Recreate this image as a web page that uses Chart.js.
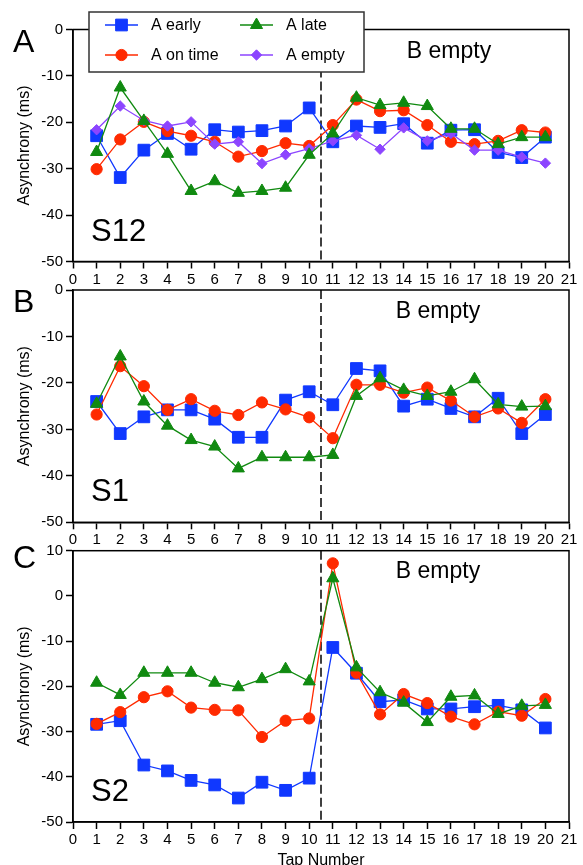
<!DOCTYPE html>
<html lang="en">
<head>
<meta charset="UTF-8" />
<title>Asynchrony by tap number</title>
<script src="https://cdn.jsdelivr.net/npm/chart.js"></script>
<style>
  html, body { margin: 0; padding: 0; background: #fff; overflow: hidden; }
  .page { position: relative; width: 583px; height: 865px; overflow: hidden; }
  .page canvas { position: absolute; left: 0; }
</style>
</head>
<body>
<div class="page">
  <canvas id="chartA" width="583" height="300" style="top:0px"></canvas>
  <canvas id="chartB" width="583" height="290" style="top:270px"></canvas>
  <canvas id="chartC" width="583" height="350" style="top:530px"></canvas>
</div>
<script>
// tap numbers and tick values
const taps = [1, 2, 3, 4, 5, 6, 7, 8, 9, 10, 11, 12, 13, 14, 15, 16, 17, 18, 19, 20];
const xTicks = [0, 1, 2, 3, 4, 5, 6, 7, 8, 9, 10, 11, 12, 13, 14, 15, 16, 17, 18, 19, 20, 21];
const yTicksAB = [0, -10, -20, -30, -40, -50];
const yTicksC = [10, 0, -10, -20, -30, -40, -50];
const splitTap = 10.5;

// panel A, S12
const s12Early = [-22.9, -31.9, -26.0, -22.4, -25.8, -21.6, -22.1, -21.8, -20.8, -16.9, -24.2, -20.8, -21.1, -20.3, -24.5, -21.7, -21.6, -26.5, -27.6, -23.2];
const s12OnTime = [-30.1, -23.7, -19.9, -21.9, -22.9, -24.2, -27.4, -26.2, -24.5, -25.1, -20.6, -15.1, -17.6, -17.4, -20.6, -24.2, -24.7, -24.0, -21.7, -22.2];
const s12Late = [-26.4, -12.5, -19.7, -26.8, -34.8, -32.7, -35.2, -34.8, -34.1, -27.0, -22.4, -14.7, -16.3, -15.8, -16.5, -21.4, -21.4, -24.7, -23.2, -23.2];
const s12Empty = [-21.6, -16.5, -19.6, -20.8, -19.9, -24.7, -24.2, -28.9, -27.0, -25.7, -24.0, -22.8, -25.8, -21.2, -24.0, -22.4, -26.0, -26.0, -27.5, -28.8];

// panel B, S1
const s1Early = [-24.0, -30.9, -27.3, -25.8, -25.8, -27.8, -31.7, -31.7, -23.7, -21.9, -24.7, -16.9, -17.4, -25.0, -23.5, -25.5, -27.3, -23.3, -30.9, -26.8];
const s1OnTime = [-26.8, -16.4, -20.7, -25.8, -23.5, -26.0, -26.9, -24.2, -25.7, -27.4, -31.9, -20.4, -20.4, -22.1, -21.0, -23.8, -27.3, -25.5, -28.6, -23.5];
const s1Late = [-24.5, -14.3, -24.0, -29.2, -32.3, -33.7, -38.4, -36.0, -36.0, -36.0, -35.5, -22.8, -19.0, -21.5, -22.8, -21.9, -19.2, -24.6, -25.1, -25.0];

// panel C, S2
const s2Early = [-28.4, -27.6, -37.4, -38.7, -40.8, -41.8, -44.7, -41.2, -43.0, -40.3, -11.4, -17.1, -23.4, -23.0, -25.0, -25.0, -24.5, -24.2, -25.2, -29.2];
const s2OnTime = [-28.3, -25.7, -22.4, -21.1, -24.7, -25.2, -25.3, -31.2, -27.6, -27.1, 7.2, -17.0, -26.2, -21.7, -23.7, -26.7, -28.4, -25.6, -26.5, -22.8];
const s2Late = [-19.2, -21.9, -17.0, -17.0, -17.0, -19.2, -20.2, -18.4, -16.2, -18.9, 3.9, -15.8, -21.3, -23.6, -27.9, -22.3, -22.0, -26.1, -24.3, -24.1];

const BLUE = "#1038ff";
const RED = "#ff2a00";
const GREEN = "#108a10";
const PURPLE = "#8c45ff";
const FONT = "'Liberation Sans', Arial, Helvetica, sans-serif";

const styles = {
  early: { label: "A early", color: BLUE, shape: "rect", r: 8.3 },
  onTime: { label: "A on time", color: RED, shape: "circle", r: 5.6 },
  late: { label: "A late", color: GREEN, shape: "triangle", r: 7 },
  empty: { label: "A empty", color: PURPLE, shape: "rectRot", r: 5.2 },
};

function series(kind, values) {
  const s = styles[kind];
  return {
    label: s.label,
    data: taps.map((t, i) => ({ x: t, y: values[i] })),
    borderColor: s.color,
    backgroundColor: s.color,
    borderWidth: 1.3,
    pointStyle: s.shape,
    pointRadius: s.r,
    pointHoverRadius: s.r,
    pointBorderWidth: 1,
    tension: 0,
    clip: false,
  };
}

function drawMarker(ctx, shape, x, y, r, color) {
  ctx.fillStyle = color;
  ctx.strokeStyle = color;
  ctx.lineWidth = 1;
  ctx.beginPath();
  if (shape === "rect") {
    const h = Math.SQRT1_2 * r;
    ctx.rect(x - h, y - h, 2 * h, 2 * h);
  } else if (shape === "circle") {
    ctx.arc(x, y, r, 0, Math.PI * 2);
  } else if (shape === "triangle") {
    ctx.moveTo(x, y - r);
    ctx.lineTo(x + r * Math.sin(Math.PI * 2 / 3), y - r * Math.cos(Math.PI * 2 / 3));
    ctx.lineTo(x + r * Math.sin(Math.PI * 4 / 3), y - r * Math.cos(Math.PI * 4 / 3));
    ctx.closePath();
  } else {
    ctx.moveTo(x - r, y);
    ctx.lineTo(x, y - r);
    ctx.lineTo(x + r, y);
    ctx.lineTo(x, y + r);
    ctx.closePath();
  }
  ctx.fill();
  ctx.stroke();
}

function drawLegend(ctx) {
  ctx.fillStyle = "#fff";
  ctx.fillRect(89, 12, 275, 60);
  ctx.strokeStyle = "#333";
  ctx.lineWidth = 1.5;
  ctx.strokeRect(89, 12, 275, 60);
  const items = [
    { kind: "early", x: 105, y: 25 },
    { kind: "onTime", x: 105, y: 55 },
    { kind: "late", x: 240, y: 25 },
    { kind: "empty", x: 240, y: 55 },
  ];
  items.forEach((it) => {
    const s = styles[it.kind];
    ctx.strokeStyle = s.color;
    ctx.lineWidth = 1.3;
    ctx.beginPath();
    ctx.moveTo(it.x, it.y);
    ctx.lineTo(it.x + 33, it.y);
    ctx.stroke();
    drawMarker(ctx, s.shape, it.x + 16.5, it.y, s.r, s.color);
    ctx.fillStyle = "#000";
    ctx.font = "16px " + FONT;
    ctx.textAlign = "left";
    ctx.textBaseline = "middle";
    ctx.fillText(s.label, it.x + 46, it.y + 1);
  });
}

// frame, dashed split line, panel labels, legend
const panelDecor = {
  id: "panelDecor",
  beforeDatasetsDraw(chart, args, opts) {
    const { ctx, chartArea: a } = chart;
    const x = chart.scales.x;
    ctx.save();
    ctx.strokeStyle = "#000";
    ctx.lineWidth = 1.5;
    ctx.strokeRect(a.left, a.top, a.right - a.left, a.bottom - a.top);
    const px = x.getPixelForValue(splitTap);
    ctx.setLineDash([9, 4]);
    ctx.lineWidth = 1.5;
    ctx.beginPath();
    ctx.moveTo(px, a.top);
    ctx.lineTo(px, a.bottom);
    ctx.stroke();
    ctx.restore();
  },
  afterDraw(chart, args, opts) {
    const { ctx, chartArea: a } = chart;
    ctx.save();
    ctx.fillStyle = "#000";
    ctx.textBaseline = "alphabetic";
    ctx.textAlign = "left";
    ctx.font = "32px " + FONT;
    ctx.fillText(opts.letter, 13, a.top + opts.letterDy);
    ctx.font = "31px " + FONT;
    ctx.fillText(opts.subject, 91, a.bottom - 21);
    ctx.font = "23px " + FONT;
    ctx.textAlign = "center";
    ctx.fillText("B empty", opts.bx, a.top + opts.bDy);
    if (opts.legend) drawLegend(ctx);
    ctx.restore();
  },
};

function makeScales(yTicks, xHeight, showTitle) {
  return {
    x: {
      type: "linear",
      min: 0,
      max: 21,
      afterFit(s) { s.height = xHeight; },
      afterBuildTicks(s) { s.ticks = xTicks.map((v) => ({ value: v })); },
      ticks: { autoSkip: false, maxRotation: 0, color: "#000", padding: 2, font: { family: FONT, size: 15 } },
      grid: { drawOnChartArea: false, tickLength: 7, tickColor: "#000", tickWidth: 1.5 },
      border: { color: "#000", width: 1.5 },
      title: {
        display: showTitle,
        text: "Tap Number",
        color: "#000",
        font: { family: FONT, size: 16 },
        padding: { top: 0, bottom: 10 },
      },
    },
    y: {
      min: yTicks[yTicks.length - 1],
      max: yTicks[0],
      afterFit(s) { s.width = 73; },
      afterBuildTicks(s) { s.ticks = yTicks.map((v) => ({ value: v })); },
      ticks: { color: "#000", padding: 3, font: { family: FONT, size: 15 } },
      grid: { drawOnChartArea: false, tickLength: 7, tickColor: "#000", tickWidth: 1.5 },
      border: { color: "#000", width: 1.5 },
      title: {
        display: true,
        text: "Asynchrony (ms)",
        color: "#000",
        font: { family: FONT, size: 16 },
        padding: { top: 15, bottom: 0 },
      },
    },
  };
}

function makeChart(id, datasets, yTicks, padTop, xHeight, showTitle, decor) {
  const ctx = document.getElementById(id).getContext("2d");
  return new Chart(ctx, {
    type: "line",
    data: { datasets },
    options: {
      responsive: false,
      animation: false,
      devicePixelRatio: 1,
      layout: { padding: { top: padTop, right: 14, bottom: 0, left: 0 } },
      plugins: { legend: { display: false }, tooltip: { enabled: false }, panelDecor: decor },
      scales: makeScales(yTicks, xHeight, showTitle),
    },
    plugins: [panelDecor],
  });
}

makeChart(
  "chartA",
  [series("late", s12Late), series("empty", s12Empty), series("onTime", s12OnTime), series("early", s12Early)],
  yTicksAB, 29.5, 38.5, false,
  { letter: "A", letterDy: 22.5, subject: "S12", bx: 449, bDy: 28, legend: true }
);

makeChart(
  "chartB",
  [series("late", s1Late), series("onTime", s1OnTime), series("early", s1Early)],
  yTicksAB, 20, 37.7, false,
  { letter: "B", letterDy: 22, subject: "S1", bx: 438, bDy: 27.5, legend: false }
);

makeChart(
  "chartC",
  [series("late", s2Late), series("onTime", s2OnTime), series("early", s2Early)],
  yTicksC, 20.7, 58, true,
  { letter: "C", letterDy: 17.6, subject: "S2", bx: 438, bDy: 27.5, legend: false }
);
</script>
</body>
</html>
